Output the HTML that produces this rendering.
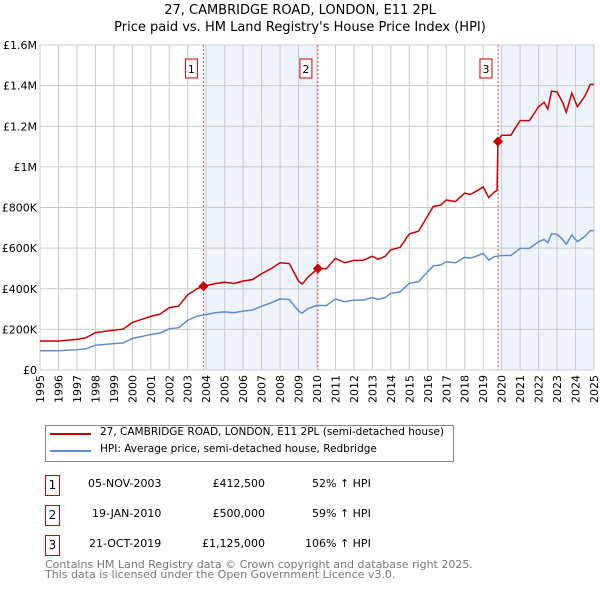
<!DOCTYPE html>
<html><head><meta charset="utf-8"><style>
body{margin:0;background:#fff;font-family:"DejaVu Sans","Liberation Sans",sans-serif;}
#wrap{position:relative;width:600px;height:590px;overflow:hidden}
.t{position:absolute;white-space:nowrap;font-size:12px;color:#000}
.box{position:absolute;border:1px solid #c00;width:13px;height:19px;font-size:12px;text-align:center;line-height:19px}
</style></head><body><div id="wrap">
<div class="t" style="left:0;width:600px;text-align:center;top:3px;font-size:13px">27, CAMBRIDGE ROAD, LONDON, E11 2PL</div>
<div class="t" style="left:0;width:600px;text-align:center;top:20px;font-size:13px">Price paid vs. HM Land Registry's House Price Index (HPI)</div>
<svg id="chart" width="600" height="420" style="position:absolute;left:0;top:0"></svg>
<div style="position:absolute;left:45px;top:425px;width:407px;height:35px;border:1px solid #888"></div>
<div style="position:absolute;left:50px;top:433px;width:41px;height:2px;background:#c00"></div>
<div class="t" style="left:100px;top:426px;font-size:10.5px">27, CAMBRIDGE ROAD, LONDON, E11 2PL (semi-detached house)</div>
<div style="position:absolute;left:50px;top:450px;width:41px;height:2px;background:#5b8fd1"></div>
<div class="t" style="left:100px;top:443px;font-size:10.5px">HPI: Average price, semi-detached house, Redbridge</div>

<div class="box" style="left:45px;top:475px">1</div>
<div class="t" style="left:88px;top:477px;font-size:11px">05-NOV-2003</div>
<div class="t" style="left:180px;width:85px;text-align:right;top:477px;font-size:11px">£412,500</div>
<div class="t" style="left:312px;top:477px;font-size:11px">52% ↑ HPI</div>
<div class="box" style="left:45px;top:505px">2</div>
<div class="t" style="left:92px;top:507px;font-size:11px">19-JAN-2010</div>
<div class="t" style="left:180px;width:85px;text-align:right;top:507px;font-size:11px">£500,000</div>
<div class="t" style="left:312px;top:507px;font-size:11px">59% ↑ HPI</div>
<div class="box" style="left:45px;top:535px">3</div>
<div class="t" style="left:89px;top:537px;font-size:11px">21-OCT-2019</div>
<div class="t" style="left:180px;width:85px;text-align:right;top:537px;font-size:11px">£1,125,000</div>
<div class="t" style="left:305px;top:537px;font-size:11px">106% ↑ HPI</div>
<div class="t" style="left:45px;top:560px;font-size:11px;color:#777;line-height:10px">Contains HM Land Registry data © Crown copyright and database right 2025.<br>This data is licensed under the Open Government Licence v3.0.</div>
</div>
<script>
const hpiDates=[1995,1996,1997,1997.5,1998,1999,1999.5,2000,2000.5,2001,2001.5,2002,2002.5,2003,2003.5,2004,2004.5,2005,2005.5,2006,2006.5,2007,2007.5,2008,2008.5,2009,2009.2,2009.5,2010,2010.5,2011,2011.5,2012,2012.5,2013,2013.3,2013.7,2014,2014.5,2015,2015.5,2016,2016.3,2016.7,2017,2017.5,2018,2018.3,2018.7,2019,2019.3,2019.6,2020,2020.5,2021,2021.5,2022,2022.3,2022.5,2022.7,2023,2023.3,2023.5,2023.8,2024.1,2024.5,2024.8,2025];
const hpiValues=[95,95,100,105,122,130,133,155,165,175,182,203,208,245,265,273,282,286,282,290,295,314,330,350,347,290,280,302,318,317,350,336,344,344,357,347,357,377,385,427,435,484,513,517,533,528,555,550,563,574,541,558,564,564,599,599,632,643,627,670,668,643,619,665,632,657,686,686];
const priceDates=[1995,1996,1997,1997.5,1998,1999,1999.5,2000,2000.5,2001,2001.5,2002,2002.5,2003,2003.5,2003.85,2004.5,2005,2005.5,2006,2006.5,2007,2007.5,2008,2008.5,2009,2009.2,2009.5,2010.05,2010.5,2011,2011.5,2012,2012.5,2013,2013.3,2013.7,2014,2014.5,2015,2015.5,2016,2016.3,2016.7,2017,2017.5,2018,2018.3,2018.7,2019,2019.3,2019.6,2019.75,2019.8,2020,2020.5,2021,2021.5,2022,2022.3,2022.5,2022.7,2023,2023.3,2023.5,2023.8,2024.1,2024.5,2024.8,2025];
const priceValues=[143,143,151,159,184,196,201,234,249,264,275,307,314,370,400,412.5,426,432,426,438,445,474,498,528,524,438,423,456,500,498,550,528,540,540,560,545,560,592,604,670,683,760,805,812,837,829,871,864,884,901,849,876,885,1125,1156,1156,1228,1228,1296,1318,1285,1373,1369,1318,1269,1363,1296,1347,1406,1406];
const saleDates=[2003.85,2010.05,2019.8];
const saleValues=[412.5,500,1125];
const saleLabels=["1","2","3"];
const yTicks=[0,200,400,600,800,1000,1200,1400,1600];
const yTickLabels=["£0","£200K","£400K","£600K","£800K","£1M","£1.2M","£1.4M","£1.6M"];
const x0=40,x1=594,y0=370,y1=45;
const X=d=>x0+(d-1995)/30*(x1-x0);
const Y=v=>y0-v/1600*(y0-y1);
const svg=document.getElementById('chart');const NS='http://www.w3.org/2000/svg';
function mk(tag,attrs,name){const e=document.createElementNS(NS,tag);for(const k in attrs)e.setAttribute(k,attrs[k]);


svg.appendChild(e);return e;}
mk('rect',{x:x0,y:y1,width:x1-x0,height:y0-y1,fill:'#fff'},'plot-area');
mk('rect',{x:X(saleDates[0]),y:y1,width:X(saleDates[1])-X(saleDates[0]),height:y0-y1,fill:'#eef3fc'},'shade-1-2');
mk('rect',{x:X(saleDates[2]),y:y1,width:x1-X(saleDates[2]),height:y0-y1,fill:'#eef3fc'},'shade-3');
for(let yr=1995;yr<=2025;yr++){
 mk('line',{x1:X(yr),x2:X(yr),y1:y1,y2:y0,stroke:'#ccc','stroke-width':1},'x-grid-line');
 const t=mk('text',{x:0,y:0,transform:`translate(${X(yr)+4},${y0+5}) rotate(-90)`,'text-anchor':'end','font-size':11,fill:'#000'},'x-tick-label');t.textContent=yr;
}
yTicks.forEach((v,i)=>{mk('line',{x1:x0,x2:x1,y1:Y(v),y2:Y(v),stroke:'#ccc','stroke-width':1},'y-grid-line');
 const t=mk('text',{x:x0-3,y:Y(v)+4,'text-anchor':'end','font-size':11,fill:'#000'},'y-tick-label');t.textContent=yTickLabels[i];});
saleDates.forEach(d=>mk('line',{x1:X(d),x2:X(d),y1:y1,y2:y0,stroke:'#e05050','stroke-width':1,'stroke-dasharray':'2,2'},'sale-vline'));
mk('polyline',{points:hpiDates.map((d,i)=>X(d)+','+Y(hpiValues[i])).join(' '),fill:'none',stroke:'#5b8fd1','stroke-width':1.5},'hpi-line');
mk('polyline',{points:priceDates.map((d,i)=>X(d)+','+Y(priceValues[i])).join(' '),fill:'none',stroke:'#c00','stroke-width':1.5},'price-line');
saleDates.forEach((d,i)=>{const cx=X(d),cy=Y(saleValues[i]);
 mk('polygon',{points:`${cx},${cy-5} ${cx+5},${cy} ${cx},${cy+5} ${cx-5},${cy}`,fill:'#c00'},'sale-point');
 mk('rect',{x:cx-18,y:59,width:12,height:19,fill:'#fff',stroke:'#c00'},'sale-label-box');
 const t=mk('text',{x:cx-12,y:73,'text-anchor':'middle','font-size':11,fill:'#000'},'sale-label');t.textContent=saleLabels[i];});
</script></body></html>
